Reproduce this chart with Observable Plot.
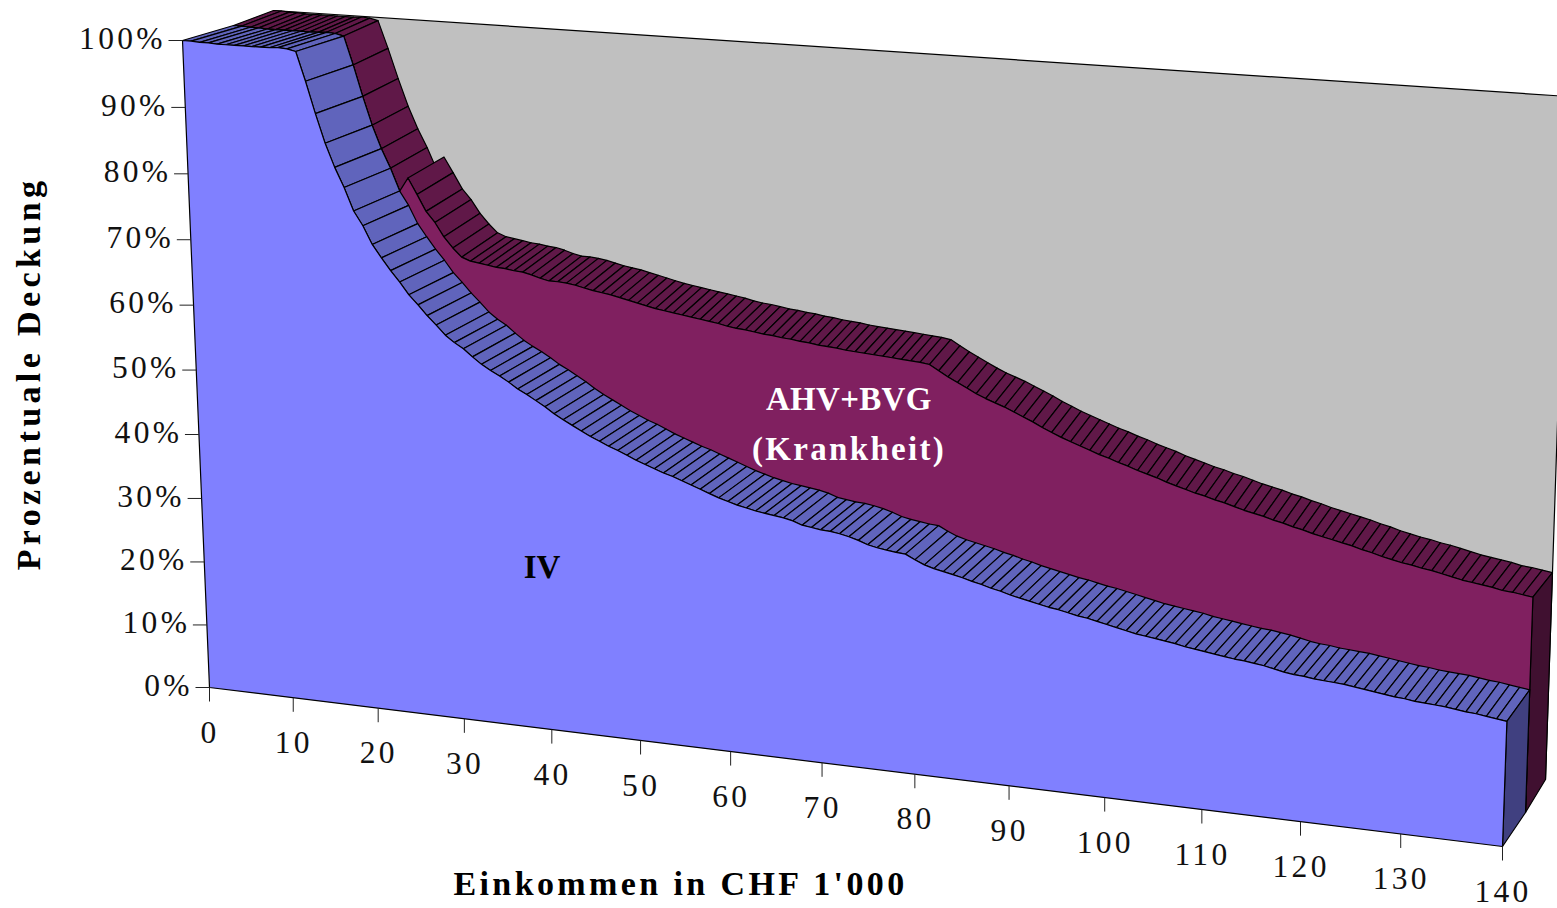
<!DOCTYPE html><html><head><meta charset="utf-8">
<script src="https://cdn.jsdelivr.net/npm/d3@7"></script>
<script src="https://cdn.jsdelivr.net/npm/@observablehq/plot@0.6"></script>
<style>html,body{margin:0;background:#fff;overflow:hidden}</style></head><body>
<div id="chart"></div>
<script>
// Income in CHF 1'000, one reading per 1'000
const income = d3.range(0, 141);
// Percentage cover
const ivValues = [
100.0,100.0,99.9,99.9,99.8,99.8,99.8,99.8,99.8,99.8,99.8,99.9,99.8,99.5,95.2,90.5,86.2,82.7,79.8,76.4,
74.3,71.6,69.7,67.9,66.3,64.5,63.1,61.6,60.3,58.9,57.9,57.1,56.0,55.0,54.2,53.5,52.7,51.8,51.1,50.3,
49.5,48.6,47.8,47.1,46.4,45.7,45.1,44.5,44.0,43.4,42.8,42.3,41.8,41.3,40.9,40.4,39.9,39.4,38.9,38.4,
38.0,37.6,37.3,37.0,36.8,36.6,36.4,36.1,35.6,35.4,35.2,35.1,34.9,34.6,34.2,33.7,33.4,33.2,33.0,32.9,
32.2,31.6,31.2,30.9,30.6,30.3,29.9,29.6,29.2,28.9,28.5,28.2,27.9,27.6,27.3,27.1,26.8,26.5,26.3,26.0,
25.7,25.4,25.1,24.8,24.6,24.4,24.2,24.0,23.7,23.5,23.3,23.1,22.9,22.7,22.6,22.4,22.2,21.9,21.6,21.4,
21.3,21.1,21.0,20.9,20.8,20.6,20.4,20.2,20.0,19.8,19.7,19.5,19.4,19.3,19.2,19.0,18.8,18.7,18.5,18.3,
18.1];
const ahvValues = [
100.0,100.0,99.9,99.9,99.8,99.8,99.8,99.8,99.8,99.8,99.8,99.9,99.8,99.5,95.2,90.5,86.2,82.7,79.8,76.4,
78.5,76.1,73.6,72.0,69.9,68.3,67.0,66.5,66.3,66.1,65.9,65.8,65.6,65.5,65.2,64.8,64.5,64.5,64.4,64.2,
63.9,63.6,63.4,63.2,62.9,62.6,62.3,62.0,61.7,61.5,61.3,61.1,60.9,60.7,60.5,60.3,60.0,59.8,59.7,59.5,
59.3,59.2,59.0,58.9,58.7,58.6,58.4,58.3,58.2,58.0,57.9,57.8,57.7,57.6,57.5,57.4,57.3,57.2,57.0,56.2,
55.4,54.7,54.0,53.3,52.7,52.2,51.7,51.1,50.5,49.9,49.2,48.6,48.0,47.5,47.0,46.5,46.0,45.6,45.1,44.7,
44.2,43.8,43.4,42.9,42.5,42.1,41.7,41.4,41.0,40.7,40.3,39.9,39.6,39.3,38.9,38.6,38.2,37.9,37.5,37.2,
36.9,36.6,36.3,35.9,35.6,35.2,34.9,34.6,34.4,34.1,33.9,33.6,33.3,33.0,32.8,32.6,32.4,32.1,32.0,31.8,
31.6];
const xTicks = d3.range(0, 141, 10);
const yTicks = d3.range(0, 101, 10);
const xTitle = "Einkommen in CHF 1'000";
const yTitle = "Prozentuale Deckung";
const seriesLabels = [
  {text: "AHV+BVG", income: 69.3, pct: 50.6, plane: 1},
  {text: "(Krankheit)", income: 69.3, pct: 43.1, plane: 1},
  {text: "IV", income: 39.3, pct: 25, plane: 0}
];

// The chart is a 3D view: each depth plane maps value space to the page through a homography
function planeMap(q) {
  const [p00, p10, p01, p11] = q;
  const dx1 = p10[0]-p11[0], dy1 = p10[1]-p11[1], dx2 = p01[0]-p11[0], dy2 = p01[1]-p11[1];
  const sx = p00[0]-p10[0]+p11[0]-p01[0], sy = p00[1]-p10[1]+p11[1]-p01[1];
  const det = dx1*dy2-dx2*dy1, g = (sx*dy2-dx2*sy)/det, h = (dx1*sy-sx*dy1)/det;
  const a = p10[0]*(1+g)-p00[0], b = p01[0]*(1+h)-p00[0], d = p10[1]*(1+g)-p00[1], e = p01[1]*(1+h)-p00[1];
  return (x, y) => { const u = x/140, v = y/100, w = g*u+h*v+1;
    return [(a*u+b*v+p00[0])/w, (d*u+e*v+p00[1])/w]; };
}
const planes = [
  planeMap([[209,687],[1502,846],[182,40],[1527,131]]),
  planeMap([[257,655],[1525,812],[233,25],[1549,112]]),
  planeMap([[320,604],[1545,779],[273,10],[1568,96]])
];

const BLACK = "#000";
let nextId = 0;
function poly(corners) { // corners: [plane, income, pct]; closed ring
  const id = nextId++;
  return [...corners, corners[0]].map(([p, x, y]) => { const [px, py] = planes[p](x, y); return {id, px, py}; });
}
const ringFace = (values, plane) => poly([
  [plane, 0, 0],
  ...income.map((x, i) => [plane, x, values[i]]),
  [plane, 140, 0]
]);
function bands(values, front, back) {
  const out = [];
  for (let i = 0; i < income.length-1; i++) {
    if (values[i+1] > values[i] + 0.5) continue; // rising step faces away from the viewer
    out.push(...poly([[front, income[i], values[i]],[back, income[i], values[i]],[back, income[i+1], values[i+1]],[front, income[i+1], values[i+1]]]));
  }
  return out;
}
const last = income.length-1;
const shape = (rows, fill) => Plot.line(rows, {x:"px", y:"py", z:"id", fill, stroke:BLACK, strokeWidth:1.2, strokeLinejoin:"round", curve:"linear"});

const wall = poly([[2,0,0],[2,140,0],[2,140,100],[2,0,100]]);
const ahvBands = bands(ahvValues, 1, 2);
const ahvSide = poly([[1,140,0],[1,140,ahvValues[last]],[2,140,ahvValues[last]],[2,140,0]]);
const ahvFace = ringFace(ahvValues, 1);
const ivBands = bands(ivValues, 0, 1);
const ivSide = poly([[0,140,0],[0,140,ivValues[last]],[1,140,ivValues[last]],[1,140,0]]);
const ivFace = ringFace(ivValues, 0);

const TL = 14;
const xTickRows = xTicks.map(t => { const [px, py] = planes[0](t, 0); return {t, px, py}; });
const yTickRows = yTicks.map(t => { const [px, py] = planes[0](0, t); return {t, px, py}; });
const labelRows = seriesLabels.map(d => { const [px, py] = planes[d.plane](d.income, d.pct); return {...d, px, py}; });

const FONT = "Liberation Serif";
const plot = Plot.plot({
  width:1557, height:908, margin:0,
  x:{domain:[0,1557], range:[0,1557], axis:null},
  y:{domain:[0,908], range:[0,908], axis:null},
  marks:[
    shape(wall, "#C0C0C0"),
    shape(ahvBands, "#601848"),
    shape(ahvSide, "#401030"),
    shape(ahvFace, "#802060"),
    shape(ivBands, "#6064BC"),
    shape(ivSide, "#404080"),
    shape(ivFace, "#8080FF"),
    Plot.link(xTickRows, {x1:"px", y1:"py", x2:"px", y2:d=>d.py+TL, stroke:"#222", strokeWidth:1}),
    Plot.link(yTickRows, {x1:"px", y1:"py", x2:d=>d.px-TL, y2:"py", stroke:"#222", strokeWidth:1}),
    Plot.text(xTickRows, {x:d=>d.px+0.6, y:d=>d.py+45, text:d=>String(d.t), fontFamily:FONT, fontSize:31.5, fill:"#111"}),
    Plot.text(yTickRows, {x:d=>d.px-TL-2.7, y:d=>d.py-2, text:d=>d.t+"%", textAnchor:"end", fontFamily:FONT, fontSize:31.5, fill:"#111"}),
    Plot.text(labelRows.filter(d=>d.plane===1), {x:"px", y:"py", text:"text", fontFamily:FONT, fontSize:33, fontWeight:"bold", fill:"#fff"}),
    Plot.text(labelRows.filter(d=>d.plane===0), {x:"px", y:"py", text:"text", fontFamily:FONT, fontSize:33, fontWeight:"bold", fill:"#000"}),
    Plot.text([xTitle], {x:()=>680, y:()=>884, text:d=>d, fontFamily:FONT, fontSize:34, fontWeight:"bold", fill:"#000"}),
    Plot.text([yTitle], {x:()=>29, y:()=>373, text:d=>d, rotate:-90, fontFamily:FONT, fontSize:34, fontWeight:"bold", fill:"#000"})
  ]
});
const spacing = new Map([[xTitle,3.4],[yTitle,4.4],["AHV+BVG",0.3],["(Krankheit)",2.3],["IV",0]]);
d3.select(plot).selectAll("text").style("letter-spacing", function(){ return (spacing.get(this.textContent) ?? 3.3)+"px"; });
document.getElementById("chart").append(plot);
</script></body></html>
